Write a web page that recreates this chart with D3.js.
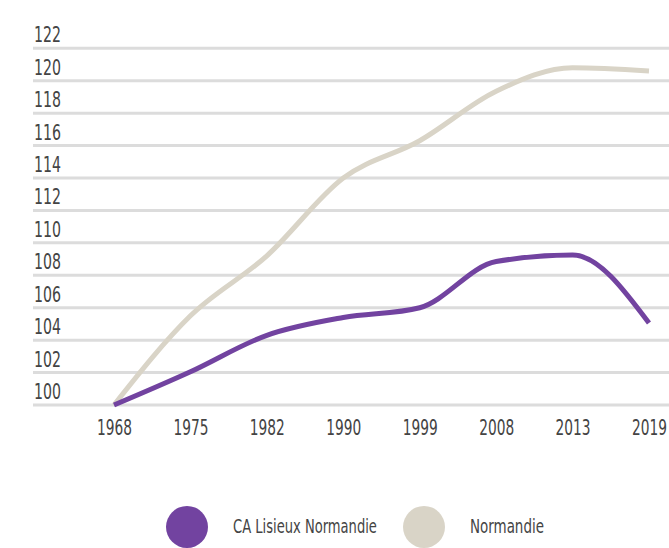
<!DOCTYPE html>
<html>
<head>
<meta charset="utf-8">
<script src="https://cdn.jsdelivr.net/npm/d3@7"></script>
<style>
  body { margin: 0; background: #fff; }
  svg text { font-family: "DejaVu Sans Condensed", "DejaVu Sans", sans-serif; font-stretch: condensed; fill: #444; }
</style>
</head>
<body>
<svg class="chart"></svg>
<script>
const years = ['1968', '1975', '1982', '1990', '1999', '2008', '2013', '2019'];
const lisieux = [100, 102.05, 104.3, 105.4, 106.0, 108.85, 109.25, 105.05];
const normandie = [100, 105.5, 109.2, 114.0, 116.3, 119.35, 120.8, 120.6];
const yTicks = [100, 102, 104, 106, 108, 110, 112, 114, 116, 118, 120, 122];
const seriesNames = ['CA Lisieux Normandie', 'Normandie'];
const colors = ['#7243a0', '#d9d4c7'];

const width = 669, height = 548;

const chart = d3.select('.chart')
  .attr('width', width)
  .attr('height', height);

// squeeze a text to a wanted width (the original uses a condensed face)
function squeeze(sel, x, y, w) {
  sel.attr('x', 0).attr('y', 0).attr('dy', 0);
  sel.each(function() {
    const natural = this.getComputedTextLength();
    d3.select(this).attr('transform',
      'translate(' + x + ',' + y + ') scale(' + (w / natural) + ',1)');
  });
}

const xScale = d3.scalePoint()
  .domain(years)
  .range([114, 649]);

const yScale = d3.scaleLinear()
  .domain([100, 122])
  .range([405, 48.3]);

// grid lines + labels
const grid = chart.append('g');
grid.selectAll('line')
  .data(yTicks)
  .enter().append('line')
  .attr('x1', 33)
  .attr('x2', width)
  .attr('y1', d => yScale(d))
  .attr('y2', d => yScale(d))
  .style('stroke', '#dcdcdc')
  .style('stroke-width', 3);

grid.selectAll('text')
  .data(yTicks)
  .enter().append('text')
  .style('font-size', '21px')
  .text(d => d)
  .each(function(d) { squeeze(d3.select(this), 34, yScale(d) - 6, 27); });

// x labels
const xAxis = d3.axisBottom(xScale).tickSize(0).tickPadding(0);
const xg = chart.append('g')
  .attr('transform', 'translate(0,420)')
  .call(xAxis);
xg.select('.domain').remove();
xg.attr('font-family', null).attr('font-size', null);
xg.selectAll('text')
  .attr('text-anchor', 'start')
  .style('font-size', '21px')
  .style('fill', '#444')
  .call(squeeze, -17.5, 15, 35);

const line = d3.line()
  .x((d, i) => xScale(years[i]))
  .y(d => yScale(d))
  .curve(d3.curveMonotoneX);

[normandie, lisieux].forEach((s, k) => {
  chart.append('path')
    .datum(s)
    .attr('d', line)
    .style('fill', 'none')
    .style('stroke', k === 0 ? colors[1] : colors[0])
    .style('stroke-width', 5);
});

// legend
const legendX = [187, 424];
const legendW = [144, 74];
const legend = chart.append('g');
seriesNames.forEach((name, i) => {
  legend.append('circle')
    .attr('cx', legendX[i])
    .attr('cy', 527)
    .attr('r', 21)
    .style('fill', colors[i]);
  legend.append('text')
    .style('font-size', '20px')
    .text(name)
    .call(squeeze, legendX[i] + 46, 533, legendW[i]);
});
</script>
</body>
</html>
